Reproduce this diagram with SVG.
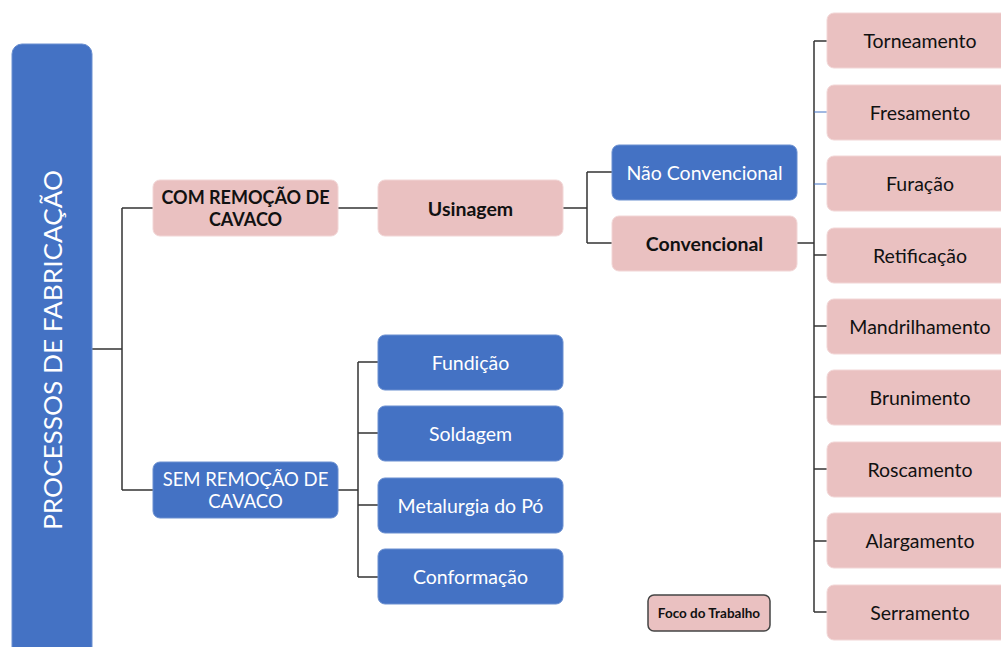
<svg xmlns="http://www.w3.org/2000/svg" width="1001" height="647" viewBox="0 0 1001 647">
<style>
.b{fill:#4472C4;stroke:#6a8fd0;stroke-width:1}
.p{fill:#EAC1C1;stroke:#f2d6d6;stroke-width:1}
.t{font-family:Lato,"Liberation Sans",sans-serif;font-size:19.5px;text-anchor:middle;dominant-baseline:central}
.w{fill:#ffffff}
.k{fill:#111111}
.bold{font-weight:bold}
.c{fill:none;stroke:#333333;stroke-width:1.5}
.cb{fill:none;stroke:#4472C4;stroke-width:1}
</style>
<rect width="1001" height="647" fill="#ffffff"/>
<g id="connectors">
<path class="c" d="M92,349H122M122,208V490M122,208H153M122,490H153"/>
<path class="c" d="M338,208H378"/>
<path class="c" d="M563,208H587M587,172V243M587,172H612M587,243H612"/>
<path class="c" d="M797,243H814M814,41V612M814,41H827M814,255H827M814,326H827M814,397H827M814,469H827M814,541H827M814,612H827"/>
<path class="cb" d="M814,112H827M814,184H827"/>
<path class="c" d="M338,490H358M358,362V577M358,362H378M358,433H378M358,505H378M358,577H378"/>
</g>
<g id="root">
<rect class="b" x="12" y="44" width="80" height="620" rx="10"/>
<text class="t w" transform="translate(52,350) rotate(-90)" style="font-size:25px" textLength="360" lengthAdjust="spacingAndGlyphs">PROCESSOS DE FABRICAÇÃO</text>
</g>
<g id="com">
<rect class="p" x="153" y="180" width="185" height="56" rx="7"/>
<text class="t k bold" x="245.5" y="197" style="font-size:18px">COM REMOÇÃO DE</text>
<text class="t k bold" x="245.5" y="219" style="font-size:18px">CAVACO</text>
</g>
<g id="sem">
<rect class="b" x="153" y="462" width="185" height="56" rx="7"/>
<text class="t w" x="245.5" y="479" style="font-size:18.5px">SEM REMOÇÃO DE</text>
<text class="t w" x="245.5" y="501" style="font-size:18.5px">CAVACO</text>
</g>
<g id="usinagem">
<rect class="p" x="378" y="180" width="185" height="56" rx="7"/>
<text class="t k bold" x="470.5" y="208">Usinagem</text>
</g>
<g id="naoconv">
<rect class="b" x="612" y="145" width="185" height="55" rx="7"/>
<text class="t w" x="704.5" y="172">Não Convencional</text>
</g>
<g id="conv">
<rect class="p" x="612" y="216" width="185" height="55" rx="7"/>
<text class="t k bold" x="704.5" y="243">Convencional</text>
</g>
<g id="fundicao">
<rect class="b" x="378" y="335" width="185" height="55" rx="7"/>
<text class="t w" x="470.5" y="362">Fundição</text>
</g>
<g id="soldagem">
<rect class="b" x="378" y="406" width="185" height="55" rx="7"/>
<text class="t w" x="470.5" y="433">Soldagem</text>
</g>
<g id="metalurgia">
<rect class="b" x="378" y="478" width="185" height="55" rx="7"/>
<text class="t w" x="470.5" y="505">Metalurgia do Pó</text>
</g>
<g id="conformacao">
<rect class="b" x="378" y="549" width="185" height="55" rx="7"/>
<text class="t w" x="470.5" y="576">Conformação</text>
</g>
<g id="torneamento">
<rect class="p" x="827" y="13" width="186" height="55" rx="7"/>
<text class="t k" x="920" y="40">Torneamento</text>
</g>
<g id="fresamento">
<rect class="p" x="827" y="85" width="186" height="55" rx="7"/>
<text class="t k" x="920" y="112">Fresamento</text>
</g>
<g id="furacao">
<rect class="p" x="827" y="156" width="186" height="55" rx="7"/>
<text class="t k" x="920" y="183">Furação</text>
</g>
<g id="retificacao">
<rect class="p" x="827" y="228" width="186" height="55" rx="7"/>
<text class="t k" x="920" y="255">Retificação</text>
</g>
<g id="mandrilhamento">
<rect class="p" x="827" y="299" width="186" height="55" rx="7"/>
<text class="t k" x="920" y="326">Mandrilhamento</text>
</g>
<g id="brunimento">
<rect class="p" x="827" y="370" width="186" height="55" rx="7"/>
<text class="t k" x="920" y="397">Brunimento</text>
</g>
<g id="roscamento">
<rect class="p" x="827" y="442" width="186" height="55" rx="7"/>
<text class="t k" x="920" y="469">Roscamento</text>
</g>
<g id="alargamento">
<rect class="p" x="827" y="513" width="186" height="55" rx="7"/>
<text class="t k" x="920" y="540">Alargamento</text>
</g>
<g id="serramento">
<rect class="p" x="827" y="585" width="186" height="55" rx="7"/>
<text class="t k" x="920" y="612">Serramento</text>
</g>
<g id="legenda">
<rect x="648" y="595" width="122" height="36" rx="6" fill="#EAC1C1" stroke="#444444" stroke-width="1.5"/>
<text class="t k bold" x="709" y="613" style="font-size:13.5px">Foco do Trabalho</text>
</g>
</svg>
